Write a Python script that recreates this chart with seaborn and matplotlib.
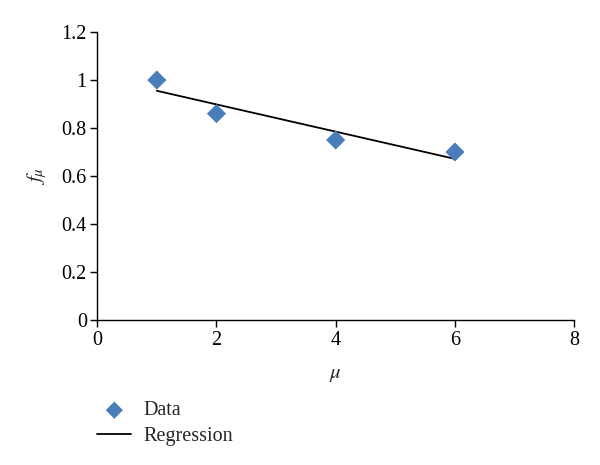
import numpy as np
import pandas as pd
import matplotlib.pyplot as plt
import seaborn as sns

# ---------- data ----------
mu = [1, 2, 4, 6]
f_mu = [1.00, 0.86, 0.75, 0.70]

df = pd.DataFrame({"mu": mu, "f": f_mu})

# least squares fit over data range
slope, intercept = np.polyfit(df["mu"], df["f"], 1)
fit = pd.DataFrame({"mu": [min(mu), max(mu)]})
fit["f"] = slope * fit["mu"] + intercept

# ---------- plot ----------
sns.set_style("white")
plt.rcParams["font.family"] = ["Liberation Serif", "DejaVu Serif"]
plt.rcParams["mathtext.fontset"] = "stix"

fig = plt.figure(figsize=(6, 4.65), dpi=100)
ax = fig.add_axes([0.162, 0.312, 0.795, 0.619])

sns.scatterplot(data=df, x="mu", y="f", marker="D", s=95, color="#4A7EBB",
                edgecolor="none", ax=ax, label="Data", zorder=3)
sns.lineplot(data=fit, x="mu", y="f", color="black", linewidth=1.3,
             ax=ax, label="Regression", zorder=2)

ax.set_xlim(0, 8)
ax.set_ylim(0, 1.2)
ax.set_xticks([0, 2, 4, 6, 8])
ax.set_yticks([0, 0.2, 0.4, 0.6, 0.8, 1.0, 1.2])
ax.set_yticklabels(["0", "0.2", "0.4", "0.6", "0.8", "1", "1.2"])
ax.tick_params(axis="both", labelsize=14.5, direction="out", length=5, width=1,
               bottom=True, left=True, colors="black")
ax.tick_params(axis="y", pad=2.5)
ax.tick_params(axis="x", pad=3)
ax.set_xlabel(r"$\mu$", fontsize=15, labelpad=11)
ax.set_ylabel(r"$f_\mu$", fontsize=15, labelpad=9)

sns.despine(ax=ax)
for side in ["left", "bottom"]:
    ax.spines[side].set_color("black")
    ax.spines[side].set_linewidth(1)

ax.legend(loc="upper left", bbox_to_anchor=(0.0, -0.283), frameon=False,
          fontsize=14.5, handlelength=1.7, handletextpad=0.6, labelspacing=0.3,
          borderaxespad=0, borderpad=0, markerscale=0.9)

fig.savefig("out.png", dpi=100)
